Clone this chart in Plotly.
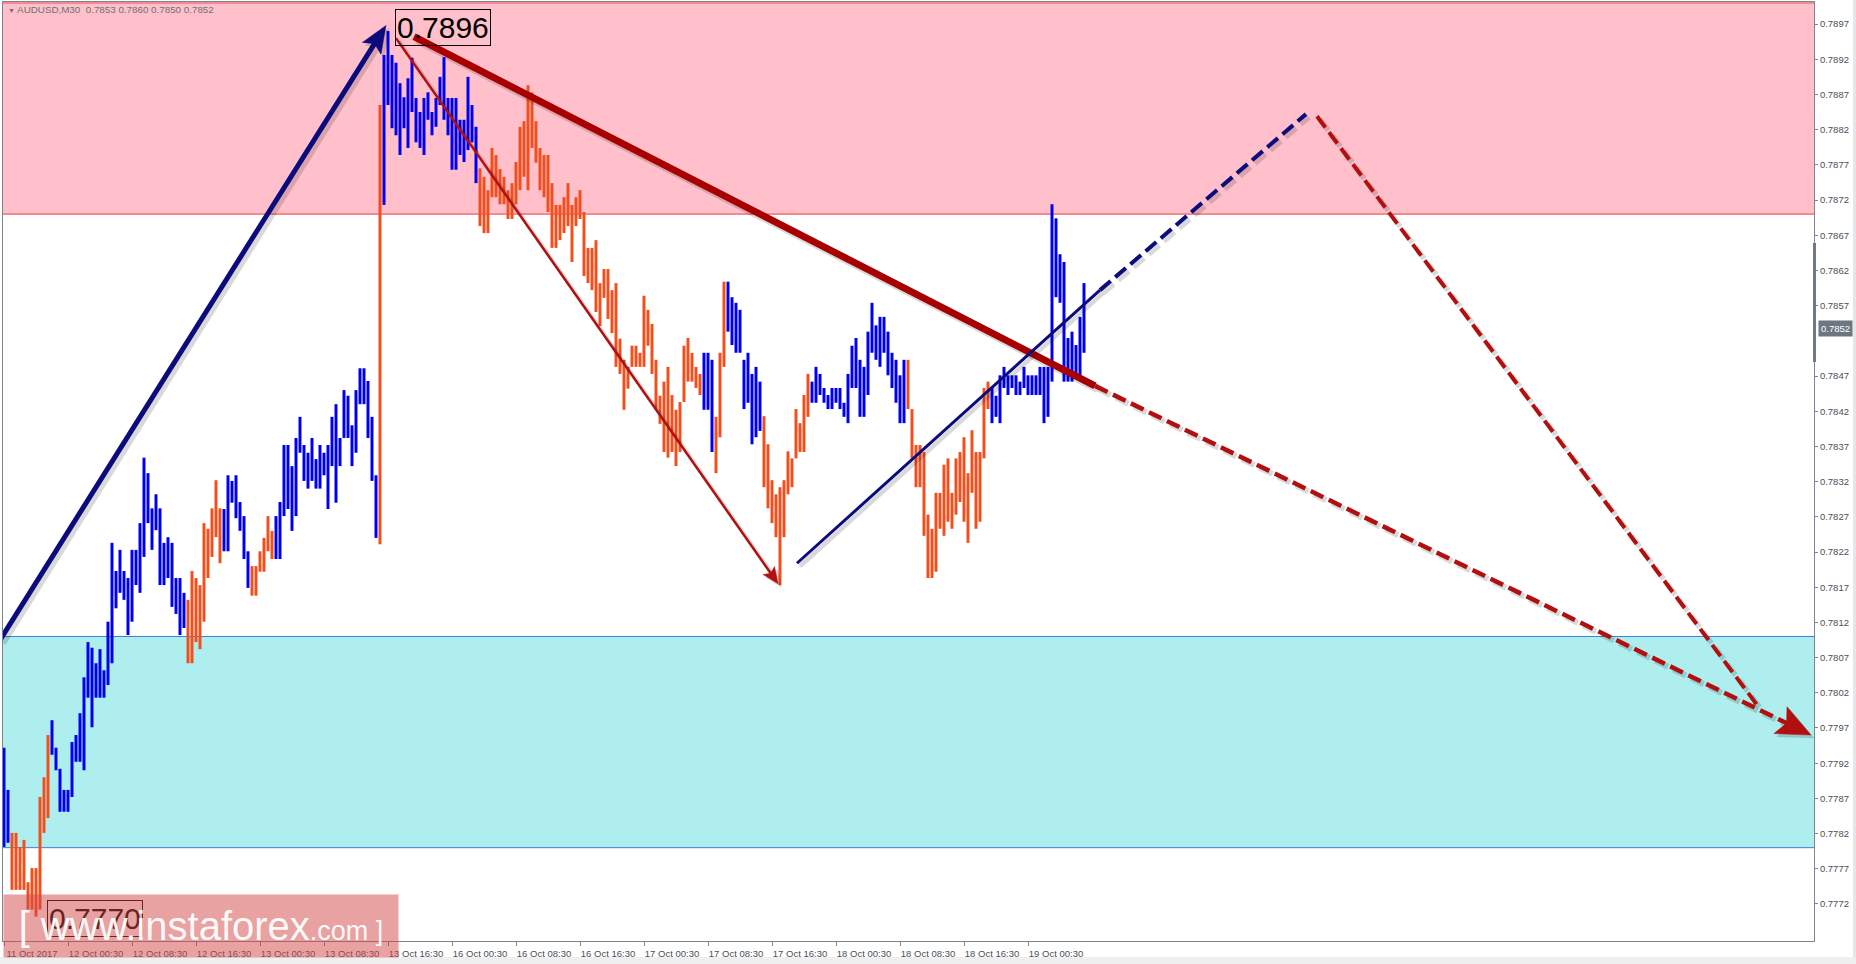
import math
import plotly.graph_objects as go

# ---------------- figure geometry (layout only) ----------------
W, H = 1856, 964
ML, MR, MT, MB = 3, 42, 2, 23
X0, X1 = -0.25, 452.5          # bar-index axis range
Y0, Y1 = 0.776674, 0.790013    # price axis range

# ---------------- data ----------------
# AUDUSD M30 bars, index 0 = 11 Oct 2017 16:30
highs = [
    0.77942, 0.77882, 0.77821, 0.77821, 0.77801, 0.77811, 0.77751, 0.77771, 0.77771, 0.77872,
    0.77900, 0.77960, 0.77981, 0.77942, 0.77912, 0.77882, 0.77882, 0.77950, 0.77960, 0.77991,
    0.78042, 0.78092, 0.78084, 0.78062, 0.78082, 0.78052, 0.78121, 0.78233, 0.78193, 0.78223,
    0.78193, 0.78183, 0.78223, 0.78223, 0.78261, 0.78354, 0.78332, 0.78282, 0.78302, 0.78282,
    0.78233, 0.78241, 0.78233, 0.78183, 0.78183, 0.78162, 0.78152, 0.78193, 0.78183, 0.78173,
    0.78261, 0.78253, 0.78282, 0.78322, 0.78282, 0.78281, 0.78329, 0.78321, 0.78329, 0.78291,
    0.78271, 0.78221, 0.78200, 0.78200, 0.78221, 0.78240, 0.78271, 0.78250, 0.78271, 0.78291,
    0.78372, 0.78372, 0.78342, 0.78382, 0.78412, 0.78372, 0.78361, 0.78382, 0.78352, 0.78372,
    0.78361, 0.78372, 0.78412, 0.78430, 0.78382, 0.78450, 0.78442, 0.78400, 0.78450, 0.78481,
    0.78481, 0.78463, 0.78412, 0.78329, 0.78855, 0.78926, 0.78960, 0.78926, 0.78915, 0.78886,
    0.78866, 0.78893, 0.78922, 0.78865, 0.78845, 0.78865, 0.78873, 0.78845, 0.78865, 0.78895,
    0.78923, 0.78865, 0.78865, 0.78865, 0.78834, 0.78834, 0.78895, 0.78855, 0.78824, 0.78765,
    0.78753, 0.78734, 0.78794, 0.78784, 0.78764, 0.78753, 0.78734, 0.78744, 0.78774, 0.78824,
    0.78832, 0.78883, 0.78873, 0.78832, 0.78794, 0.78784, 0.78784, 0.78744, 0.78713, 0.78713,
    0.78724, 0.78744, 0.78713, 0.78724, 0.78734, 0.78703, 0.78652, 0.78652, 0.78663, 0.78602,
    0.78622, 0.78622, 0.78592, 0.78602, 0.78523, 0.78493, 0.78483, 0.78513, 0.78513, 0.78503,
    0.78584, 0.78564, 0.78544, 0.78493, 0.78442, 0.78462, 0.78483, 0.78443, 0.78422, 0.78433,
    0.78513, 0.78524, 0.78503, 0.78483, 0.78473, 0.78503, 0.78503, 0.78493, 0.78412, 0.78503,
    0.78604, 0.78604, 0.78582, 0.78574, 0.78564, 0.78493, 0.78503, 0.78473, 0.78483, 0.78462,
    0.78413, 0.78373, 0.78322, 0.78302, 0.78312, 0.78322, 0.78363, 0.78353, 0.78423, 0.78403,
    0.78443, 0.78473, 0.78462, 0.78483, 0.78473, 0.78453, 0.78443, 0.78453, 0.78453, 0.78453,
    0.78432, 0.78473, 0.78513, 0.78524, 0.78493, 0.78483, 0.78533, 0.78574, 0.78542, 0.78554,
    0.78554, 0.78533, 0.78503, 0.78493, 0.78471, 0.78493, 0.78493, 0.78423, 0.78372, 0.78372,
    0.78362, 0.78273, 0.78253, 0.78304, 0.78304, 0.78344, 0.78353, 0.78304, 0.78353, 0.78362,
    0.78383, 0.78332, 0.78393, 0.78362, 0.78362, 0.78453, 0.78462, 0.78453, 0.78442, 0.78471,
    0.78483, 0.78471, 0.78471, 0.78471, 0.78462, 0.78483, 0.78471, 0.78471, 0.78471, 0.78483,
    0.78483, 0.78483, 0.78714, 0.78694, 0.78643, 0.78632, 0.78524, 0.78533, 0.78514, 0.78554,
    0.78602,
]
lows = [
    0.77801, 0.77807, 0.77740, 0.77740, 0.77740, 0.77740, 0.77712, 0.77712, 0.77702, 0.77712,
    0.77821, 0.77842, 0.77932, 0.77910, 0.77851, 0.77851, 0.77851, 0.77872, 0.77922, 0.77922,
    0.77910, 0.78013, 0.77971, 0.78013, 0.78013, 0.78013, 0.78031, 0.78062, 0.78140, 0.78162,
    0.78152, 0.78102, 0.78121, 0.78173, 0.78162, 0.78213, 0.78261, 0.78223, 0.78251, 0.78173,
    0.78173, 0.78183, 0.78142, 0.78132, 0.78102, 0.78112, 0.78062, 0.78062, 0.78092, 0.78082,
    0.78121, 0.78183, 0.78213, 0.78241, 0.78204, 0.78221, 0.78221, 0.78290, 0.78268, 0.78250,
    0.78210, 0.78169, 0.78158, 0.78158, 0.78192, 0.78192, 0.78221, 0.78210, 0.78210, 0.78210,
    0.78271, 0.78281, 0.78250, 0.78271, 0.78361, 0.78321, 0.78310, 0.78321, 0.78310, 0.78310,
    0.78329, 0.78281, 0.78342, 0.78290, 0.78342, 0.78382, 0.78382, 0.78342, 0.78361, 0.78430,
    0.78430, 0.78382, 0.78321, 0.78240, 0.78231, 0.78713, 0.78855, 0.78822, 0.78812, 0.78784,
    0.78822, 0.78794, 0.78845, 0.78802, 0.78794, 0.78784, 0.78834, 0.78812, 0.78824, 0.78855,
    0.78834, 0.78812, 0.78763, 0.78763, 0.78784, 0.78774, 0.78791, 0.78802, 0.78744, 0.78683,
    0.78673, 0.78673, 0.78724, 0.78724, 0.78714, 0.78714, 0.78693, 0.78693, 0.78714, 0.78734,
    0.78753, 0.78734, 0.78794, 0.78773, 0.78734, 0.78724, 0.78703, 0.78652, 0.78652, 0.78663,
    0.78673, 0.78683, 0.78632, 0.78683, 0.78693, 0.78612, 0.78602, 0.78592, 0.78561, 0.78541,
    0.78581, 0.78551, 0.78531, 0.78483, 0.78473, 0.78422, 0.78452, 0.78483, 0.78483, 0.78483,
    0.78483, 0.78513, 0.78473, 0.78422, 0.78402, 0.78362, 0.78354, 0.78362, 0.78342, 0.78362,
    0.78433, 0.78462, 0.78462, 0.78453, 0.78443, 0.78422, 0.78422, 0.78362, 0.78332, 0.78383,
    0.78483, 0.78533, 0.78514, 0.78503, 0.78503, 0.78423, 0.78432, 0.78373, 0.78383, 0.78392,
    0.78312, 0.78282, 0.78261, 0.78241, 0.78173, 0.78241, 0.78302, 0.78312, 0.78353, 0.78362,
    0.78362, 0.78412, 0.78432, 0.78432, 0.78443, 0.78432, 0.78423, 0.78423, 0.78432, 0.78423,
    0.78412, 0.78403, 0.78453, 0.78453, 0.78412, 0.78412, 0.78443, 0.78503, 0.78493, 0.78483,
    0.78503, 0.78471, 0.78453, 0.78432, 0.78403, 0.78403, 0.78423, 0.78353, 0.78312, 0.78312,
    0.78243, 0.78183, 0.78183, 0.78192, 0.78253, 0.78243, 0.78263, 0.78253, 0.78273, 0.78291,
    0.78263, 0.78233, 0.78304, 0.78253, 0.78263, 0.78353, 0.78423, 0.78403, 0.78412, 0.78403,
    0.78453, 0.78443, 0.78453, 0.78443, 0.78443, 0.78453, 0.78443, 0.78443, 0.78443, 0.78443,
    0.78403, 0.78412, 0.78462, 0.78582, 0.78574, 0.78462, 0.78462, 0.78462, 0.78471, 0.78471,
    0.78503,
]
# bar colouring (run length): "up" = blue, "down" = orange-red
color_runs = [("up", 2), ("down", 10), ("up", 34), ("down", 9), ("up", 7), ("down", 6),
              ("up", 26), ("down", 1), ("up", 24), ("down", 56), ("up", 3), ("down", 3),
              ("up", 9), ("down", 12), ("up", 24), ("down", 21), ("up", 24)]

x_tick_index = [0, 16, 32, 48, 64, 80, 96, 112, 128, 144, 160, 176, 192, 208, 224, 240, 256]
x_tick_text = ["11 Oct 2017", "12 Oct 00:30", "12 Oct 08:30", "12 Oct 16:30", "13 Oct 00:30",
               "13 Oct 08:30", "13 Oct 16:30", "16 Oct 00:30", "16 Oct 08:30", "16 Oct 16:30",
               "17 Oct 00:30", "17 Oct 08:30", "17 Oct 16:30", "18 Oct 00:30", "18 Oct 08:30",
               "18 Oct 16:30", "19 Oct 00:30"]
y_tick_vals = [0.7897, 0.7892, 0.7887, 0.7882, 0.7877, 0.7872, 0.7867, 0.7862, 0.7857,
               0.7847, 0.7842, 0.7837, 0.7832, 0.7827, 0.7822, 0.7817, 0.7812, 0.7807,
               0.7802, 0.7797, 0.7792, 0.7787, 0.7782, 0.7777, 0.7772]

header_text = "AUDUSD,M30  0.7853 0.7860 0.7850 0.7852"
last_close = 0.7852
resistance_zone = [0.7870, 0.7900]
support_zone = [0.7780, 0.7810]
peak_index, peak_price = 96, 0.7896
trough_index, trough_price = 8, 0.7770

# wave markup (bar index, price)
wave_up_x, wave_up_y = [-1.0, 95.5], [0.78095, 0.78968]
wave_down_x, wave_down_y = [102.5, 272.75], [0.78952, 0.78456]
wave_down_fc_x, wave_down_fc_y = [272.75, 451.75], [0.78456, 0.77960]
sub_down_x, sub_down_y = [98.0, 193.5], [0.78950, 0.78175]
corr_x, corr_y = [198.25, 274.0], [0.78204, 0.78592]
corr_fc_x, corr_fc_y = [274.0, 325.5], [0.78592, 0.78842]
final_fc_x, final_fc_y = [328.25, 438.5], [0.78839, 0.78001]

# ---------------- styles ----------------
UP_COLOR = "#0000EE"
DOWN_COLOR = "#F0501E"
NAVY = "#0B0B7D"
DARK_RED = "#A80000"
RED = "#B21010"
SHADOW = "rgba(0,0,0,0.15)"
AX_COLOR = "#7B8591"
TXT = "#4A5058"
FONT = "Liberation Sans"

PLOT_W = W - ML - MR
PLOT_H = H - MT - MB
PX_X = PLOT_W / (X1 - X0)
PX_Y = PLOT_H / (Y1 - Y0)


def to_px(i, p):
    return ML + (i - X0) * PX_X, MT + (Y1 - p) * PX_Y


def to_data(xp, yp):
    return X0 + (xp - ML) / PX_X, Y1 - (yp - MT) / PX_Y


def paper_x(xp):
    return (xp - ML) / PLOT_W


def paper_y(yp):
    return 1 - (yp - MT) / PLOT_H


fig = go.Figure()

# ---------------- bars ----------------
colors = []
for c, n in color_runs:
    colors += [c] * n
for kind, col in (("up", UP_COLOR), ("down", DOWN_COLOR)):
    xs, ys = [], []
    for i, (h, l) in enumerate(zip(highs, lows)):
        if colors[i] == kind:
            xs += [i, i, None]
            ys += [l, h, None]
    fig.add_trace(go.Scatter(x=xs, y=ys, mode="lines", line=dict(color=col, width=3),
                             hoverinfo="skip", showlegend=False))


# ---------------- wave lines ----------------
def shifted(xs, ys, dx=3, dy=3):
    out_x, out_y = [], []
    for x, y in zip(xs, ys):
        xp, yp = to_px(x, y)
        a, b = to_data(xp + dx, yp + dy)
        out_x.append(a)
        out_y.append(b)
    return out_x, out_y


def add_line(xs, ys, color, width, dash="solid", shadow=True):
    if shadow:
        sx, sy = shifted(xs, ys)
        fig.add_trace(go.Scatter(x=sx, y=sy, mode="lines",
                                 line=dict(color=SHADOW, width=width + 1.5, dash=dash),
                                 hoverinfo="skip", showlegend=False))
    fig.add_trace(go.Scatter(x=xs, y=ys, mode="lines", line=dict(color=color, width=width, dash=dash),
                             hoverinfo="skip", showlegend=False))


def add_arrow(xs, ys, color, width, head_len, head_half, dash="solid"):
    tx, ty = to_px(xs[0], ys[0])
    hx, hy = to_px(xs[-1], ys[-1])
    n = math.hypot(hx - tx, hy - ty)
    ux, uy = (hx - tx) / n, (hy - ty) / n
    nx, ny = -uy, ux
    bx, by = hx - ux * head_len, hy - uy * head_len
    kx, ky = hx - ux * head_len * 0.8, hy - uy * head_len * 0.8
    end = to_data(kx + ux * 1, ky + uy * 1)
    add_line([xs[0], end[0]], [ys[0], end[1]], color, width, dash)
    pts = [(hx, hy), (bx + nx * head_half, by + ny * head_half), (kx, ky),
           (bx - nx * head_half, by - ny * head_half), (hx, hy)]
    for off, col in ((3, SHADOW), (0, color)):
        px_ = [to_data(a + off, b + off) for a, b in pts]
        fig.add_trace(go.Scatter(x=[p[0] for p in px_], y=[p[1] for p in px_], mode="lines",
                                 fill="toself", fillcolor=col, line=dict(color=col, width=0.5),
                                 hoverinfo="skip", showlegend=False))


add_arrow(wave_up_x, wave_up_y, NAVY, 5, 27, 11)
add_line(wave_down_x, wave_down_y, DARK_RED, 7)
add_arrow(wave_down_fc_x, wave_down_fc_y, RED, 4.5, 34, 15, dash="14px,6px")
add_arrow(sub_down_x, sub_down_y, RED, 2.5, 16, 7)
add_line(corr_x, corr_y, NAVY, 3)
add_line(corr_fc_x, corr_fc_y, NAVY, 4, dash="14px,6px")
add_line(final_fc_x, final_fc_y, RED, 4, dash="14px,6px")

# ---------------- zones ----------------
fig.add_shape(type="rect", xref="paper", x0=0, x1=1, yref="y", y0=resistance_zone[0],
              y1=resistance_zone[1], fillcolor="#FFC0CB", line_width=0, layer="below")
fig.add_shape(type="rect", xref="paper", x0=0, x1=1, yref="y", y0=support_zone[0],
              y1=support_zone[1], fillcolor="#AFEEEE", line_width=0, layer="below")
for v in resistance_zone:
    fig.add_shape(type="line", xref="paper", x0=0, x1=1, yref="y", y0=v, y1=v,
                  line=dict(color="#E0403A", width=1), layer="below")
for v in support_zone:
    fig.add_shape(type="line", xref="paper", x0=0, x1=1, yref="y", y0=v, y1=v,
                  line=dict(color="#3E7FD6", width=1), layer="below")

# decorations outside plot
fig.add_shape(type="rect", xref="paper", yref="paper", x0=paper_x(1813), x1=paper_x(1816),
              y0=paper_y(362), y1=paper_y(243), fillcolor="#6F7A86", line_width=0)
fig.add_shape(type="rect", xref="paper", yref="paper", x0=paper_x(0), x1=paper_x(W),
              y0=paper_y(H), y1=paper_y(957), fillcolor="#EFEFEF", line_width=0)
fig.add_shape(type="rect", xref="paper", yref="paper", x0=paper_x(1853), x1=paper_x(1856),
              y0=paper_y(957), y1=paper_y(0), fillcolor="#E6E6E6", line_width=0)

# ---------------- annotations ----------------
fig.add_annotation(xref="paper", yref="paper", x=paper_x(6), y=paper_y(9), xanchor="left",
                   yanchor="middle", showarrow=False,
                   text="<span style='font-size:7px'>\u25BC</span> " + header_text,
                   font=dict(family=FONT, size=9.8, color="#707070"))
fig.add_annotation(x=peak_index, y=peak_price, text=f"{peak_price:.4f}", showarrow=False,
                   xanchor="left", yanchor="middle", xshift=7, yshift=4,
                   font=dict(family=FONT, size=30, color="black"),
                   bordercolor="black", borderwidth=1, borderpad=1)
fig.add_annotation(x=trough_index, y=trough_price, text=f"{trough_price:.4f}", showarrow=False,
                   xanchor="left", yanchor="middle", xshift=11, yshift=0,
                   font=dict(family=FONT, size=30, color="black"),
                   bordercolor="black", borderwidth=1, borderpad=1)
fig.add_annotation(xref="paper", x=1, y=last_close, yref="y", text=f"{last_close:.4f}",
                   showarrow=False, xanchor="left", yanchor="middle", xshift=4, yshift=12,
                   font=dict(family=FONT, size=9.5, color="white"), bgcolor="#6D7782",
                   borderpad=2)
# watermark
fig.add_annotation(xref="paper", yref="paper", x=paper_x(3), y=paper_y(926), xanchor="left",
                   yanchor="middle", width=394, height=62, showarrow=False,
                   bgcolor="rgba(210,70,70,0.5)", borderpad=0, align="center", valign="middle",
                   text="[ www.instaforex<span style='font-size:27px'>.com ]</span>",
                   font=dict(family=FONT, size=40, color="rgba(255,255,255,0.95)"))

# ---------------- layout ----------------
fig.update_layout(
    width=W, height=H,
    margin=dict(l=ML, r=MR, t=MT, b=MB, pad=0),
    paper_bgcolor="white", plot_bgcolor="white",
    showlegend=False,
    xaxis=dict(range=[X0, X1], tickvals=x_tick_index, ticktext=x_tick_text,
               showgrid=False, zeroline=False, showline=True, linecolor=AX_COLOR, linewidth=1,
               mirror=True, ticks="outside", ticklen=4, tickcolor=AX_COLOR,
               tickfont=dict(family=FONT, size=9.5, color=TXT), ticklabelshift=28,
               ticklabelstandoff=0, automargin=False, fixedrange=True),
    yaxis=dict(range=[Y0, Y1], side="right", tickvals=y_tick_vals, tickformat=".4f",
               showgrid=False, zeroline=False, showline=True, linecolor=AX_COLOR, linewidth=1,
               mirror=True, ticks="outside", ticklen=3, tickcolor=AX_COLOR,
               tickfont=dict(family=FONT, size=9.5, color=TXT), automargin=False,
               fixedrange=True),
)

fig.write_html("out.html", config={"displayModeBar": False},
               post_script="document.body.style.margin='0';document.body.style.overflow='hidden';")
